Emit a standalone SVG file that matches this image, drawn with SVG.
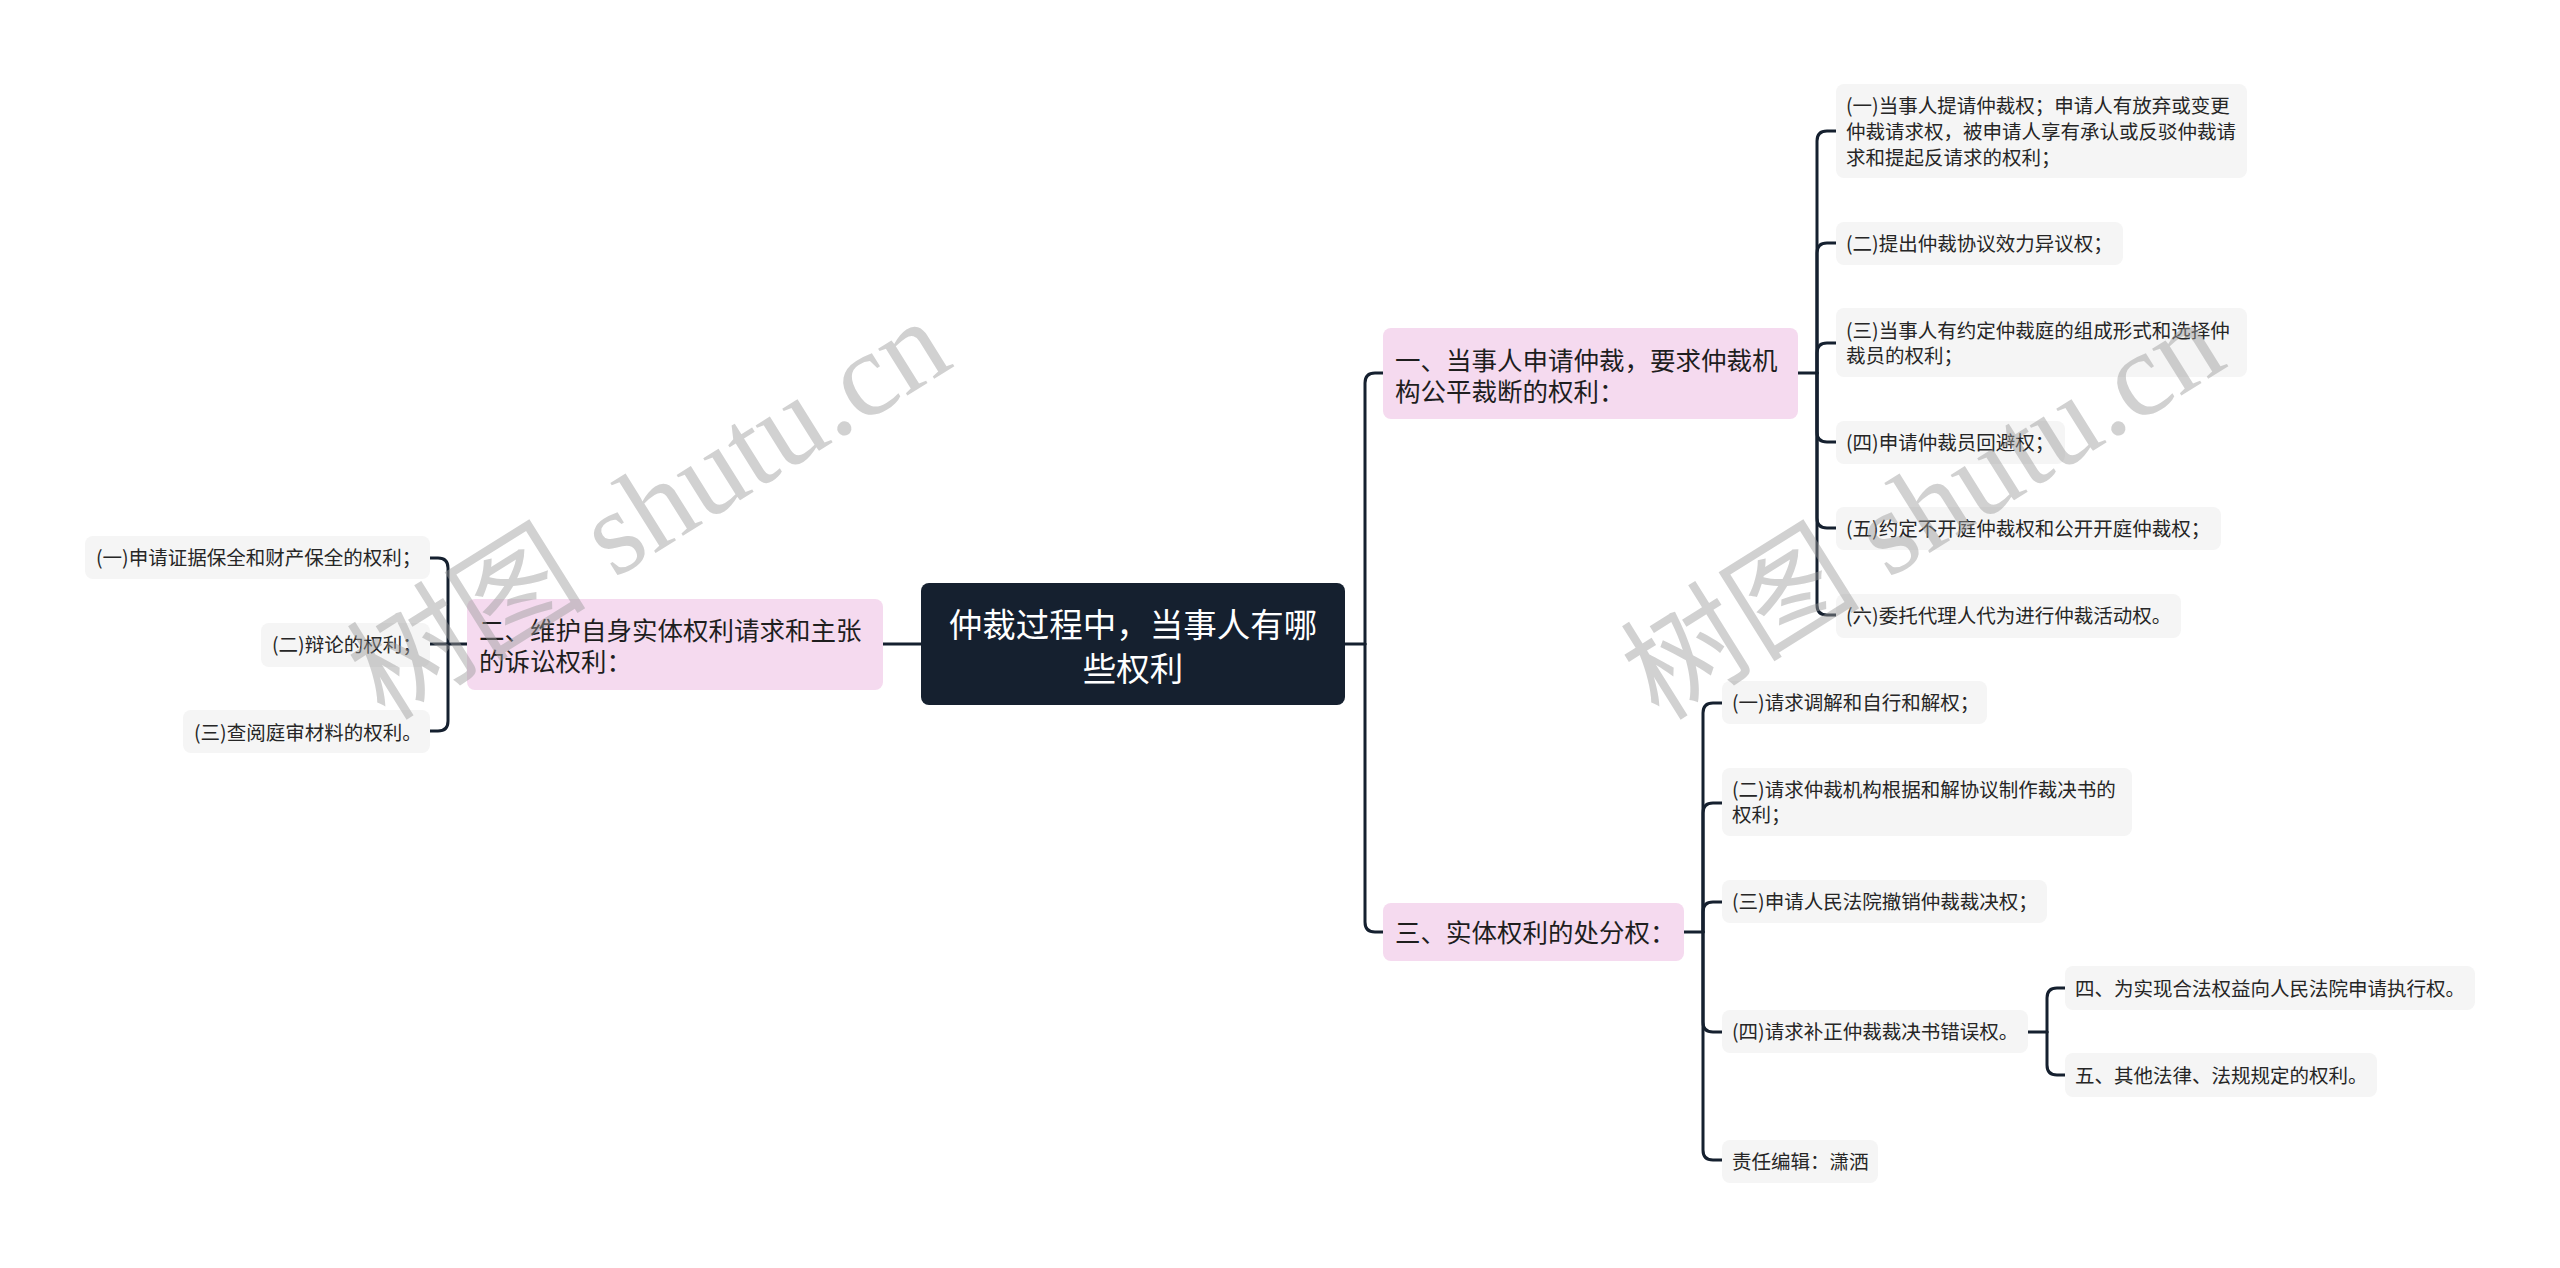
<svg xmlns="http://www.w3.org/2000/svg" width="2560" height="1268" viewBox="0 0 2560 1268">
<style>
.bg{fill:#ffffff}
.root rect{fill:#15202f}
.root text{fill:#ffffff;font-family:"Noto Sans CJK SC","Noto Sans",sans-serif;font-size:33.5px;text-anchor:middle}
.l1 rect{fill:#f5daef}
.l1 text{fill:#1e1e1e;font-family:"Noto Sans CJK SC","Noto Sans",sans-serif;font-size:25.5px}
.leaf rect{fill:#f5f5f5}
.leaf text{fill:#262626;font-family:"Noto Sans CJK SC","Noto Sans",sans-serif;font-size:19.5px}
.conn path{fill:none;stroke:#15202f;stroke-width:3;stroke-linecap:round;stroke-linejoin:round}
.wm{fill:#9a9a9a;opacity:0.45;font-family:"Liberation Serif","Noto Sans CJK SC",serif;font-size:120px}
</style>
<rect class="bg" x="0" y="0" width="2560" height="1268"/>
<g id="connectors" class="conn">
<path d="M921,644 H883"/>
<path d="M467,644 H448"/>
<path d="M448,644 V568 Q448,558 438,558 H430"/>
<path d="M448,644 H430"/>
<path d="M448,644 V721 Q448,731 438,731 H430"/>
<path d="M1345,644 H1365"/>
<path d="M1365,644 V383 Q1365,373 1375,373 H1383"/>
<path d="M1365,644 V922 Q1365,932 1375,932 H1383"/>
<path d="M1798,373 H1817"/>
<path d="M1817,373 V141 Q1817,131 1827,131 H1836"/>
<path d="M1817,373 V253 Q1817,243 1827,243 H1836"/>
<path d="M1817,373 V353 Q1817,343 1827,343 H1836"/>
<path d="M1817,373 V432 Q1817,442 1827,442 H1836"/>
<path d="M1817,373 V518 Q1817,528 1827,528 H1836"/>
<path d="M1817,373 V605 Q1817,615 1827,615 H1836"/>
<path d="M1684,932 H1703"/>
<path d="M1703,932 V713 Q1703,703 1713,703 H1722"/>
<path d="M1703,932 V813 Q1703,803 1713,803 H1722"/>
<path d="M1703,932 V912 Q1703,902 1713,902 H1722"/>
<path d="M1703,932 V1022 Q1703,1032 1713,1032 H1722"/>
<path d="M1703,932 V1150 Q1703,1160 1713,1160 H1722"/>
<path d="M2028,1032 H2047"/>
<path d="M2047,1032 V998 Q2047,988 2057,988 H2065"/>
<path d="M2047,1032 V1065 Q2047,1075 2057,1075 H2065"/>
</g>
<g id="root" class="root">
<rect x="921" y="583" width="424" height="122" rx="8"/>
<text x="1133" y="637">仲裁过程中，当事人有哪</text>
<text x="1133" y="681">些权利</text>
</g>
<g id="n1" class="l1">
<rect x="1383" y="328" width="415" height="91" rx="8"/>
<text x="1395" y="370">一、当事人申请仲裁，要求仲裁机</text>
<text x="1395" y="401">构公平裁断的权利：</text>
</g>
<g id="n2" class="l1">
<rect x="467" y="599" width="416" height="91" rx="8"/>
<text x="479" y="640">二、维护自身实体权利请求和主张</text>
<text x="479" y="671">的诉讼权利：</text>
</g>
<g id="n3" class="l1">
<rect x="1383" y="903" width="301" height="58" rx="8"/>
<text x="1395" y="942">三、实体权利的处分权：</text>
</g>
<g id="n2a" class="leaf">
<rect x="85" y="536" width="345" height="43" rx="8"/>
<text x="96" y="565">(一)申请证据保全和财产保全的权利；</text>
</g>
<g id="n2b" class="leaf">
<rect x="261" y="623" width="169" height="44" rx="8"/>
<text x="272" y="652">(二)辩论的权利；</text>
</g>
<g id="n2c" class="leaf">
<rect x="183" y="710" width="247" height="43" rx="8"/>
<text x="194" y="740">(三)查阅庭审材料的权利。</text>
</g>
<g id="n1a" class="leaf">
<rect x="1836" y="84" width="411" height="94" rx="8"/>
<text x="1846" y="113">(一)当事人提请仲裁权；申请人有放弃或变更</text>
<text x="1846" y="139">仲裁请求权，被申请人享有承认或反驳仲裁请</text>
<text x="1846" y="165">求和提起反请求的权利；</text>
</g>
<g id="n1b" class="leaf">
<rect x="1836" y="222" width="287" height="43" rx="8"/>
<text x="1846" y="251">(二)提出仲裁协议效力异议权；</text>
</g>
<g id="n1c" class="leaf">
<rect x="1836" y="308" width="411" height="69" rx="8"/>
<text x="1846" y="338">(三)当事人有约定仲裁庭的组成形式和选择仲</text>
<text x="1846" y="363">裁员的权利；</text>
</g>
<g id="n1d" class="leaf">
<rect x="1836" y="421" width="229" height="43" rx="8"/>
<text x="1846" y="450">(四)申请仲裁员回避权；</text>
</g>
<g id="n1e" class="leaf">
<rect x="1836" y="507" width="385" height="43" rx="8"/>
<text x="1846" y="536">(五)约定不开庭仲裁权和公开开庭仲裁权；</text>
</g>
<g id="n1f" class="leaf">
<rect x="1836" y="594" width="345" height="44" rx="8"/>
<text x="1846" y="623">(六)委托代理人代为进行仲裁活动权。</text>
</g>
<g id="n3a" class="leaf">
<rect x="1722" y="681" width="265" height="43" rx="8"/>
<text x="1732" y="710">(一)请求调解和自行和解权；</text>
</g>
<g id="n3b" class="leaf">
<rect x="1722" y="768" width="410" height="68" rx="8"/>
<text x="1732" y="797">(二)请求仲裁机构根据和解协议制作裁决书的</text>
<text x="1732" y="822">权利；</text>
</g>
<g id="n3c" class="leaf">
<rect x="1722" y="880" width="325" height="43" rx="8"/>
<text x="1732" y="909">(三)申请人民法院撤销仲裁裁决权；</text>
</g>
<g id="n3d" class="leaf">
<rect x="1722" y="1010" width="306" height="43" rx="8"/>
<text x="1732" y="1039">(四)请求补正仲裁裁决书错误权。</text>
</g>
<g id="n3d1" class="leaf">
<rect x="2065" y="966" width="410" height="44" rx="8"/>
<text x="2075" y="996">四、为实现合法权益向人民法院申请执行权。</text>
</g>
<g id="n3d2" class="leaf">
<rect x="2065" y="1053" width="312" height="44" rx="8"/>
<text x="2075" y="1083">五、其他法律、法规规定的权利。</text>
</g>
<g id="n3e" class="leaf">
<rect x="1722" y="1140" width="156" height="43" rx="8"/>
<text x="1732" y="1169">责任编辑：潇洒</text>
</g>
<g id="watermarks">
<text class="wm" transform="translate(385,722) rotate(-32)">树图 shutu.cn</text>
<text class="wm" transform="translate(1659,722) rotate(-32)">树图 shutu.cn</text>
</g>
</svg>
